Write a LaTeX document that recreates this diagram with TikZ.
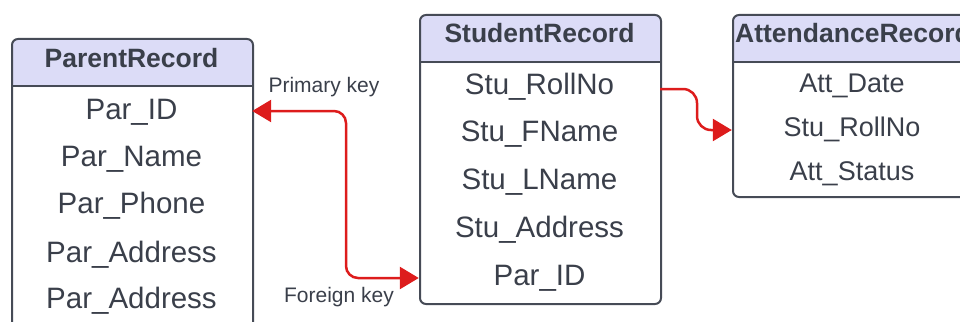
\documentclass[tikz,border=0pt]{standalone}
\usepackage{fontspec}
\setmainfont{Liberation Sans}
\usetikzlibrary{arrows.meta}
\definecolor{ink}{HTML}{3A3F4A}
\definecolor{edge}{HTML}{464B56}
\definecolor{hdr}{HTML}{DCDCF7}
\definecolor{fk}{HTML}{DD1C1C}
\begin{document}
\begin{tikzpicture}[x=1pt,y=-1pt,
  erbox/.style={draw=edge, line width=2pt, rounded corners=6pt,
    minimum width=241pt, anchor=north west, inner sep=0pt,
    path picture={\fill[hdr] (path picture bounding box.north west)
      rectangle ([yshift=-48pt]path picture bounding box.north east);}},
  sepline/.style={draw=edge, line width=2pt},
  title/.style={text=ink, anchor=base, inner sep=0pt,
    font=\fontsize{26.5}{30}\selectfont\bfseries},
  rowtxt/.style={text=ink, inner sep=0pt, minimum width=241pt,
    text height=20pt, text depth=6pt, font=\fontsize{29.5}{33}\selectfont},
  rowsmall/.style={rowtxt, minimum width=240pt,
    text height=18.5pt, text depth=5.5pt, font=\fontsize{27}{30}\selectfont},
  keylbl/.style={text=ink, anchor=base, inner sep=0pt,
    font=\fontsize{21}{24}\selectfont},
  relline/.style={draw=fk, line width=2.5pt},
  tip/.tip={Triangle[length=19pt,width=22pt]}
]
\useasboundingbox (0,0) rectangle (960,321);

% ParentRecord
\node[erbox, minimum height=310pt] (parent) at (11,38) {};
\draw[sepline] ([yshift=-48pt]parent.north west) -- ([yshift=-48pt]parent.north east);
\node[title] (parentT) at (131.5,67) {ParentRecord};
\node[rowtxt] (pID)    at (131.5,112) {Par\_ID};
\node[rowtxt] (pName)  at (131.5,159) {Par\_Name};
\node[rowtxt] (pPhone) at (131.5,206) {Par\_Phone};
\node[rowtxt] (pAddrA) at (131.5,255) {Par\_Address};
\node[rowtxt] (pAddrB) at (131.5,301) {Par\_Address};

% StudentRecord
\node[erbox, minimum height=289pt] (student) at (419,14) {};
\draw[sepline] ([yshift=-48pt]student.north west) -- ([yshift=-48pt]student.north east);
\node[title] (studentT) at (539.5,43) {StudentRecord};
\node[rowtxt] (sRoll)  at (539.5,87)  {Stu\_RollNo};
\node[rowtxt] (sFName) at (539.5,134) {Stu\_FName};
\node[rowtxt] (sLName) at (539.5,182) {Stu\_LName};
\node[rowtxt] (sAddr)  at (539.5,230) {Stu\_Address};
\node[rowtxt] (sPID)   at (539.5,278) {Par\_ID};

% AttendanceRecord
\node[erbox, minimum width=240pt, minimum height=182pt] (attend) at (732,14) {};
\draw[sepline] ([yshift=-48pt]attend.north west) -- ([yshift=-48pt]attend.north east);
\node[title] (attendT) at (853,42) {AttendanceRecord};
\node[rowsmall] (aDate)   at (852,86)  {Att\_Date};
\node[rowsmall] (aRoll)   at (852,130) {Stu\_RollNo};
\node[rowsmall] (aStatus) at (852,174) {Att\_Status};

% key labels
\node[keylbl] (pkLbl) at (324,92)  {Primary key};
\node[keylbl] (fkLbl) at (339,302) {Foreign key};

% relationships
\coordinate (k1) at (346,0);
\coordinate (k2) at (697,0);
\draw[relline, tip-tip, rounded corners=12pt]
  ([yshift=1pt]pID.east) -- ([yshift=1pt]pID.east -| k1)
  -- (sPID.west -| k1) -- (sPID.west);
\draw[relline, -tip, rounded corners=14pt]
  ([yshift=-2pt]sRoll.east) -- ([yshift=-2pt]sRoll.east -| k2)
  -- (aRoll.west -| k2) -- (aRoll.west);
\end{tikzpicture}
\end{document}
